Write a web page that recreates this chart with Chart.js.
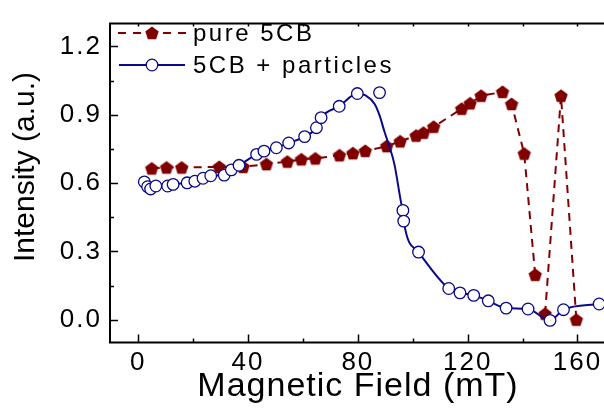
<!DOCTYPE html>
<html>
<head>
<meta charset="utf-8">
<script src="https://cdn.jsdelivr.net/npm/chart.js@4.4.0/dist/chart.umd.min.js"></script>
<style>
  html, body { margin: 0; padding: 0; background: #fff; overflow: hidden; }
  #wrap { width: 640px; height: 414px; }
</style>
</head>
<body>
<div id="wrap"><canvas id="chart" width="640" height="414"></canvas></div>
<script>
// pure 5CB (filled pentagons, dashed line)
const pureField = [4.9, 10.3, 15.8, 29.5, 38.2, 46.7, 54.3, 59.4, 64.5, 73.3, 78.2, 82.7, 90.5, 95.4, 101.2, 103.9, 107.6, 117.8, 120.9, 124.9, 132.7, 136.0, 140.6, 144.6, 148.2, 154.0, 159.6];
const pureIntensity = [0.664, 0.668, 0.668, 0.671, 0.671, 0.683, 0.694, 0.704, 0.708, 0.722, 0.731, 0.741, 0.762, 0.783, 0.808, 0.821, 0.847, 0.926, 0.950, 0.983, 1.000, 0.947, 0.729, 0.197, 0.026, 0.983, 0.000];
const pureLineGaps = [144.6]; // dashed line is not drawn after these points

// 5CB + particles (open circles)
const particleField = [2.2, 3.4, 4.5, 6.4, 10.7, 12.7, 17.8, 20.6, 23.6, 26.4, 31.3, 33.9, 36.7, 43.1, 45.8, 50.3, 54.8, 60.6, 64.9, 66.6, 73.2, 79.8, 87.9, 96.4, 96.7, 102.1, 113.1, 117.2, 122.2, 127.5, 134.0, 142.0, 150.0, 154.9, 167.9];
const particleIntensity = [0.605, 0.584, 0.574, 0.587, 0.587, 0.594, 0.601, 0.608, 0.621, 0.632, 0.635, 0.658, 0.678, 0.726, 0.740, 0.755, 0.776, 0.804, 0.843, 0.887, 0.937, 0.993, 0.997, 0.480, 0.433, 0.297, 0.137, 0.118, 0.107, 0.083, 0.051, 0.047, -0.003, 0.044, 0.069];

// smooth curve through the particle data
const fitField = [2.2, 3.4, 4.5, 6.4, 10.7, 12.7, 17.8, 20.6, 23.6, 26.4, 31.3, 33.9, 36.7, 43.1, 45.8, 50.3, 54.8, 60.6, 64.9, 66.6, 73.2, 79.8, 82.8, 86.1, 87.9, 89.7, 91.5, 93.3, 95.8, 96.4, 96.7, 102.1, 113.1, 117.2, 122.2, 127.5, 134.0, 142.0, 150.0, 154.9, 167.9];
const fitIntensity = [0.605, 0.584, 0.574, 0.587, 0.587, 0.594, 0.601, 0.608, 0.621, 0.632, 0.635, 0.658, 0.678, 0.726, 0.740, 0.755, 0.776, 0.804, 0.843, 0.887, 0.937, 0.993, 0.985, 0.947, 0.897, 0.825, 0.760, 0.683, 0.511, 0.480, 0.433, 0.297, 0.137, 0.118, 0.107, 0.083, 0.051, 0.047, -0.003, 0.044, 0.069];

const xTickValues = [0, 40, 80, 120, 160];
const xMinorTicks = [20, 60, 100, 140];
const yTickValues = [0.0, 0.3, 0.6, 0.9, 1.2];
const yMinorTicks = [0.15, 0.45, 0.75, 1.05];

const RED = '#800000';
const NAVY = '#0a0a8a';
const FONT = "'Liberation Sans', Arial, sans-serif";

function pentagonPath(ctx, cx, cy, r) {
    ctx.beginPath();
    for (let i = 0; i < 5; i++) {
        const ang = -Math.PI / 2 + i * 2 * Math.PI / 5;
        const px = cx + r * Math.cos(ang), py = cy + r * Math.sin(ang);
        if (i === 0) ctx.moveTo(px, py); else ctx.lineTo(px, py);
    }
    ctx.closePath();
}

// pentagon marker as an image for pointStyle
const pentagon = document.createElement('canvas');
pentagon.width = 16; pentagon.height = 16;
(() => {
    const c = pentagon.getContext('2d');
    pentagonPath(c, 8, 8.6, 7);
    c.fillStyle = RED;
    c.fill();
})();

const toXY = (xs, ys) => xs.map((v, i) => ({ x: v, y: ys[i] }));

/* ===============================
   Frame, inward ticks, titles, legend
================================ */
const framePlugin = {
    id: 'frame',
    beforeDraw(chart) {
        chart.ctx.letterSpacing = '2px';
    },
    afterDraw(chart) {
        const { ctx, chartArea: a, scales: { x, y } } = chart;
        const right = chart.width;
        ctx.save();
        ctx.strokeStyle = '#000';
        ctx.lineWidth = 2;
        ctx.beginPath();
        ctx.moveTo(right, a.top); ctx.lineTo(a.left, a.top);
        ctx.lineTo(a.left, a.bottom); ctx.lineTo(right, a.bottom);
        ctx.stroke();

        ctx.lineWidth = 1.5;
        ctx.beginPath();
        xTickValues.concat(xMinorTicks).forEach(v => {
            const px = Math.round(x.getPixelForValue(v)) + 0.5;
            const len = xTickValues.includes(v) ? 8 : 4;
            ctx.moveTo(px, a.bottom); ctx.lineTo(px, a.bottom - len);
            ctx.moveTo(px, a.top); ctx.lineTo(px, a.top + 3);
        });
        yTickValues.concat(yMinorTicks).forEach(v => {
            const py = Math.round(y.getPixelForValue(v)) + 0.5;
            const len = yTickValues.includes(v) ? 8 : 4;
            ctx.moveTo(a.left, py); ctx.lineTo(a.left + len, py);
        });
        ctx.stroke();

        // axis titles
        ctx.fillStyle = '#000';
        ctx.letterSpacing = '1px';
        ctx.font = `34px ${FONT}`;
        ctx.textAlign = 'center';
        ctx.textBaseline = 'alphabetic';
        ctx.fillText('Magnetic Field (mT)', 358, 396);
        ctx.save();
        ctx.translate(34, 167);
        ctx.rotate(-Math.PI / 2);
        ctx.letterSpacing = '0px';
        ctx.font = `30px ${FONT}`;
        ctx.fillText('Intensity (a.u.)', 0, 0);
        ctx.restore();

        // legend
        ctx.letterSpacing = '2.5px';
        ctx.font = `24px ${FONT}`;
        ctx.textAlign = 'left';
        ctx.textBaseline = 'middle';
        ctx.lineWidth = 2;

        ctx.strokeStyle = RED;
        ctx.setLineDash([8, 7]);
        ctx.beginPath();
        ctx.moveTo(118, 33); ctx.lineTo(186, 33);
        ctx.stroke();
        ctx.setLineDash([]);
        ctx.fillStyle = RED;
        pentagonPath(ctx, 152, 33.6, 7);
        ctx.fill();
        ctx.fillStyle = '#000';
        ctx.fillText('pure 5CB', 193, 34);

        ctx.strokeStyle = NAVY;
        ctx.beginPath();
        ctx.moveTo(119, 65); ctx.lineTo(185, 65);
        ctx.stroke();
        ctx.fillStyle = '#fff';
        ctx.strokeStyle = NAVY;
        ctx.lineWidth = 1.3;
        ctx.beginPath();
        ctx.arc(152, 65, 5.8, 0, Math.PI * 2);
        ctx.fill(); ctx.stroke();
        ctx.fillStyle = '#000';
        ctx.fillText('5CB + particles', 193, 66);
        ctx.restore();
    }
};

new Chart(document.getElementById('chart'), {
    type: 'scatter',
    data: {
        datasets: [
            {
                label: '5CB + particles',
                data: toXY(particleField, particleIntensity),
                showLine: false,
                pointStyle: 'circle',
                pointRadius: 5.8,
                pointBorderWidth: 1.3,
                pointBorderColor: NAVY,
                pointBackgroundColor: '#fff',
                order: 0
            },
            {
                label: 'fit',
                data: toXY(fitField, fitIntensity),
                showLine: true,
                borderColor: NAVY,
                borderWidth: 2,
                cubicInterpolationMode: 'monotone',
                pointRadius: 0,
                order: 1
            },
            {
                label: 'pure 5CB',
                data: toXY(pureField, pureIntensity),
                showLine: true,
                borderColor: RED,
                borderWidth: 2,
                borderDash: [8, 6],
                segment: {
                    borderColor: c => pureLineGaps.includes(c.p0.parsed.x) ? 'rgba(0,0,0,0)' : undefined
                },
                pointStyle: pentagon,
                pointRadius: 7,
                order: 2
            }
        ]
    },
    options: {
        responsive: false,
        animation: false,
        layout: { padding: { top: 16, right: 8, left: 0, bottom: 0 } },
        plugins: { legend: { display: false }, tooltip: { enabled: false } },
        scales: {
            x: {
                type: 'linear',
                min: -10.3,
                max: 179.5,
                afterBuildTicks: s => { s.ticks = xTickValues.map(v => ({ value: v })); },
                afterFit: s => { s.height = 71.5; },
                grid: { display: false, drawTicks: false },
                border: { display: false },
                ticks: { padding: 5, color: '#000', font: { size: 26, family: FONT } }
            },
            y: {
                min: -0.1,
                max: 1.3,
                afterBuildTicks: s => { s.ticks = yTickValues.map(v => ({ value: v })); },
                afterFit: s => { s.width = 110; },
                grid: { display: false, drawTicks: false },
                border: { display: false },
                ticks: { padding: 8, color: '#000', font: { size: 26, family: FONT }, callback: v => v.toFixed(1) }
            }
        }
    },
    plugins: [framePlugin]
});
</script>
</body>
</html>
